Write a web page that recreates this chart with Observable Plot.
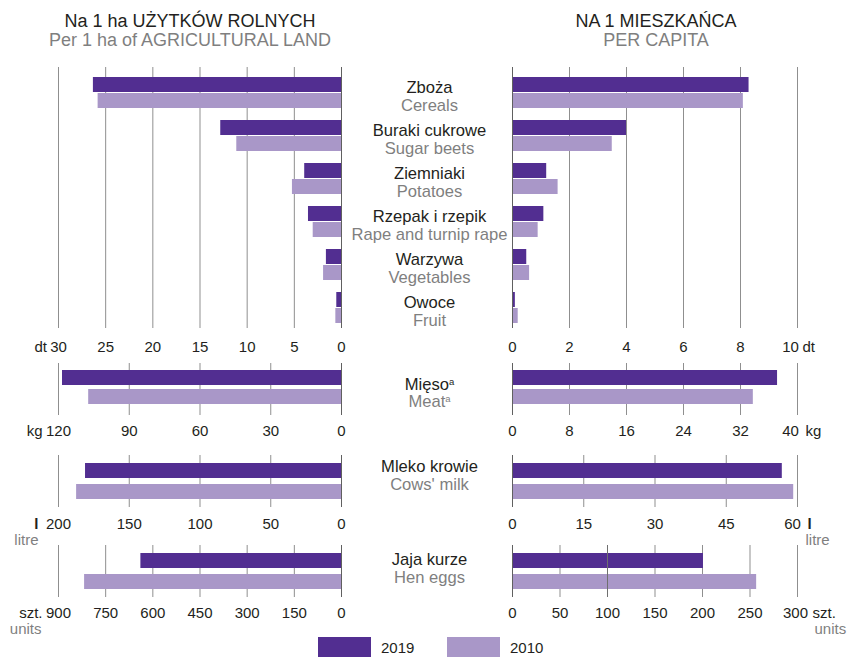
<!DOCTYPE html>
<html><head><meta charset="utf-8">
<script src="https://cdn.jsdelivr.net/npm/d3@7"></script>
<script src="https://cdn.jsdelivr.net/npm/@observablehq/plot@0.6"></script>
<style>
body{margin:0;background:#fff;font-family:"Liberation Sans",Arial,Helvetica,sans-serif;}
#chart{position:relative;width:850px;height:658px;overflow:hidden;background:#fff}
#chart svg{position:absolute;left:0;top:0}
.ttl{position:absolute;white-space:nowrap;transform:translateX(-50%);font-size:18px;line-height:18px}
.leg{position:absolute;white-space:nowrap;font-size:15px;line-height:15px;color:#231f20}
.sw{position:absolute;width:53px;height:20px}
</style></head><body><div id="chart"></div>
<script>
// ---------- DATA ----------
const years = ["2019", "2010"];
const cropsPL = ["Zboża", "Buraki cukrowe", "Ziemniaki", "Rzepak i rzepik", "Warzywa", "Owoce"];
const cropsEN = ["Cereals", "Sugar beets", "Potatoes", "Rape and turnip rape", "Vegetables", "Fruit"];
const cropPerHa2019 = [26.3, 12.8, 3.9, 3.5, 1.6, 0.5];
const cropPerHa2010 = [25.8, 11.1, 5.2, 3.0, 1.9, 0.6];
const cropPerCapita2019 = [8.3, 4.0, 1.2, 1.1, 0.5, 0.1];
const cropPerCapita2010 = [8.1, 3.5, 1.6, 0.9, 0.6, 0.2];

const animalPL = ["Mięso", "Mleko krowie", "Jaja kurze"];
const animalEN = ["Meat", "Cows' milk", "Hen eggs"];
const animalPerHa2019 = [118.3, 180.9, 638];
const animalPerHa2010 = [107.2, 187.2, 817];
const animalPerCapita2019 = [37.2, 56.8, 201];
const animalPerCapita2010 = [33.8, 59.2, 257];

const ticksCropPerHa = [0, 5, 10, 15, 20, 25, 30];
const ticksCropPerCapita = [0, 2, 4, 6, 8, 10];
const ticksMeatPerHa = [0, 30, 60, 90, 120];
const ticksMeatPerCapita = [0, 8, 16, 24, 32, 40];
const ticksMilkPerHa = [0, 50, 100, 150, 200];
const ticksMilkPerCapita = [0, 15, 30, 45, 60];
const ticksEggsPerHa = [0, 150, 300, 450, 600, 750, 900];
const ticksEggsPerCapita = [0, 50, 100, 150, 200, 250, 300];

const unitsPL = ["dt", "kg", "l", "szt."];
const unitsEN = ["", "", "litre", "units"];

const titleLeftPL = "Na 1 ha UŻYTKÓW ROLNYCH";
const titleLeftEN = "Per 1 ha of AGRICULTURAL LAND";
const titleRightPL = "NA 1 MIESZKAŃCA";
const titleRightEN = "PER CAPITA";

// ---------- STYLE / LAYOUT ----------
const W = 850, H = 658;
const LEFT0 = 341, LEFTEND = 58, RIGHT0 = 512, RIGHTEND = 797;
const CENTER_DX = 88;
const yearColors = ["#522e91", "#a997c8"];
const gridColor = "#8f8f8f", zeroColor = "#606060";
const dark = "#231f20", grey = "#7f7f7f";
const font = '"Liberation Sans", Arial, Helvetica, sans-serif';
const labelSize = 16.6, tickSize = 15;

const chart = document.getElementById("chart");

function basePlot(opts) {
  return Plot.plot({
    width: W, height: H, marginLeft: 0, marginRight: 0,
    style: {background: "transparent", fontFamily: font, fontSize: tickSize + "px", color: dark},
    ...opts
  });
}

function xScale(left, ticks) {
  const max = ticks[ticks.length - 1];
  return {domain: [0, max], range: left ? [LEFT0, LEFTEND] : [RIGHT0, RIGHTEND], axis: null};
}

function tickLabels(ticks, left, unitIdx, L) {
  const max = ticks[ticks.length - 1];
  const common = {frameAnchor: "bottom", lineAnchor: "bottom", fontSize: tickSize, fill: dark, dy: L.tickDy};
  const marks = [];
  if (left) {
    marks.push(Plot.text(ticks, {x: d => d, text: d => String(d), ...common}));
    marks.push(Plot.text([max], {x: d => d, text: () => unitsPL[unitIdx], textAnchor: "end", dx: L.unitDxL, ...common,
      fontWeight: unitsPL[unitIdx] === "l" ? "bold" : "normal"}));
    if (unitsEN[unitIdx]) marks.push(Plot.text([max], {x: d => d, text: () => unitsEN[unitIdx], textAnchor: "end",
      dx: L.subDxL, ...common, dy: L.subDy, fill: grey}));
  } else {
    marks.push(Plot.text(ticks.slice(0, -1), {x: d => d, text: d => String(d), ...common}));
    marks.push(Plot.text([max], {x: d => d, text: d => String(d), dx: L.lastDx, ...common}));
    marks.push(Plot.text([max], {x: d => d, text: () => unitsPL[unitIdx], textAnchor: "start", dx: L.unitDxR, ...common,
      fontWeight: unitsPL[unitIdx] === "l" ? "bold" : "normal"}));
    if (unitsEN[unitIdx]) marks.push(Plot.text([max], {x: d => d, text: () => unitsEN[unitIdx], textAnchor: "start",
      dx: L.subDxR, ...common, dy: L.subDy, fill: grey}));
  }
  return marks;
}

// ---------- CROPS (top block) ----------
const cropLayout = {frame: [67, 328], bars: [77, 323], gap: 12, tickDy: 23.5, lastDx: -7,
  unitDxL: -11.5, unitDxR: 5, plDy: -0.5, enDy: 18};

function cropPanel(left) {
  const v19 = left ? cropPerHa2019 : cropPerCapita2019;
  const v10 = left ? cropPerHa2010 : cropPerCapita2010;
  const ticks = left ? ticksCropPerHa : ticksCropPerCapita;
  const rows = cropsPL.map((pl, i) => ({pl, en: cropsEN[i], v19: v19[i], v10: v10[i]}));
  const L = cropLayout;
  const n = cropsPL.length;
  const step = (L.bars[1] - L.bars[0] + L.gap) / n;
  const half = (step - L.gap + 1) / 2;
  const marks = [
    Plot.ruleX(ticks.filter(t => t !== 0), {stroke: gridColor}),
    Plot.barX(rows, {x: "v19", y: "pl", fill: yearColors[0], insetBottom: half}),
    Plot.barX(rows, {x: "v10", y: "pl", fill: yearColors[1], insetTop: half}),
    Plot.ruleX([0], {stroke: zeroColor}),
    ...tickLabels(ticks, left, 0, L)
  ];
  if (left) {
    marks.push(Plot.text(rows, {x: () => 0, y: "pl", text: "pl", dx: CENTER_DX, dy: L.plDy, lineAnchor: "bottom", fontSize: labelSize, fill: dark}));
    marks.push(Plot.text(rows, {x: () => 0, y: "pl", text: "en", dx: CENTER_DX, dy: L.enDy, lineAnchor: "bottom", fontSize: labelSize, fill: grey}));
  }
  return basePlot({
    marginTop: L.frame[0], marginBottom: H - L.frame[1],
    x: xScale(left, ticks),
    y: {domain: cropsPL, range: L.bars, paddingInner: L.gap / step, paddingOuter: 0, axis: null},
    marks
  });
}

// ---------- ANIMAL PRODUCTS (lower blocks) ----------
const animalTicksHa = [ticksMeatPerHa, ticksMilkPerHa, ticksEggsPerHa];
const animalTicksCap = [ticksMeatPerCapita, ticksMilkPerCapita, ticksEggsPerCapita];
const animalLayout = [
  {frame: [363, 415], bars: [370, 404], gap: 4, tickDy: 20, lastDx: -7, unitDxL: -16, unitDxR: 8, plDy: 0, enDy: 17, overlay: null},
  {frame: [455, 507], bars: [463, 499], gap: 6, tickDy: 21, lastDx: -5, unitDxL: -20, unitDxR: 10, subDxL: -20, subDxR: 8, subDy: 37, plDy: -10, enDy: 8, overlay: null},
  {frame: [545, 597], bars: [553, 589], gap: 6, tickDy: 20.5, lastDx: -2, unitDxL: -16, unitDxR: 15, subDxL: -17, subDxR: 17, subDy: 36, plDy: -7, enDy: 11, overlay: 100}
];

function animalPanel(i, left) {
  const vals = left ? [animalPerHa2019[i], animalPerHa2010[i]] : [animalPerCapita2019[i], animalPerCapita2010[i]];
  const ticks = left ? animalTicksHa[i] : animalTicksCap[i];
  const L = animalLayout[i];
  const rows = years.map((year, j) => ({year, v: vals[j]}));
  const step = (L.bars[1] - L.bars[0] + L.gap) / 2;
  const marks = [
    Plot.ruleX(ticks.filter(t => t !== 0), {stroke: gridColor}),
    Plot.barX(rows, {x: "v", y: "year", fill: "year"}),
    Plot.ruleX([0], {stroke: zeroColor})
  ];
  if (!left && L.overlay !== null) marks.push(Plot.ruleX([L.overlay], {stroke: "#6f6f6f"}));
  marks.push(...tickLabels(ticks, left, i + 1, L));
  if (left) {
    marks.push(Plot.text([animalPL[i]], {x: () => 0, text: d => d, frameAnchor: "middle", dx: CENTER_DX, dy: L.plDy, lineAnchor: "bottom", fontSize: labelSize, fill: dark}));
    marks.push(Plot.text([animalEN[i]], {x: () => 0, text: d => d, frameAnchor: "middle", dx: CENTER_DX, dy: L.enDy, lineAnchor: "bottom", fontSize: labelSize, fill: grey}));
  }
  return basePlot({
    marginTop: L.frame[0], marginBottom: H - L.frame[1],
    x: xScale(left, ticks),
    y: {domain: years, range: L.bars, paddingInner: L.gap / step, paddingOuter: 0, axis: null},
    color: {domain: years, range: yearColors},
    marks
  });
}

// ---------- RENDER ----------
chart.appendChild(cropPanel(true));
chart.appendChild(cropPanel(false));
for (let i = 0; i < animalPL.length; i++) {
  chart.appendChild(animalPanel(i, true));
  chart.appendChild(animalPanel(i, false));
}

// superscript "a" after meat labels
chart.querySelectorAll("text").forEach(t => {
  if (t.textContent === "Mięso" || t.textContent === "Meat") {
    const ts = document.createElementNS("http://www.w3.org/2000/svg", "tspan");
    ts.setAttribute("font-size", "9.5");
    ts.setAttribute("dy", "-5");
    ts.textContent = "a";
    t.appendChild(ts);
  }
});

// titles
function addDiv(cls, text, x, y, color) {
  const d = document.createElement("div");
  d.className = cls; d.textContent = text;
  d.style.left = x + "px"; d.style.top = y + "px"; d.style.color = color;
  chart.appendChild(d);
  return d;
}
addDiv("ttl", titleLeftPL, 190, 11.5, dark);
addDiv("ttl", titleLeftEN, 190, 30.5, grey);
addDiv("ttl", titleRightPL, 656, 11.5, dark);
addDiv("ttl", titleRightEN, 656, 30.5, grey);

// legend
const legX = [318, 447];
years.forEach((y, j) => {
  const s = document.createElement("div");
  s.className = "sw"; s.style.left = legX[j] + "px"; s.style.top = "637px"; s.style.background = yearColors[j];
  chart.appendChild(s);
  const t = document.createElement("div");
  t.className = "leg"; t.textContent = y; t.style.left = (legX[j] + 63) + "px"; t.style.top = "639.5px";
  chart.appendChild(t);
});
</script></body></html>
